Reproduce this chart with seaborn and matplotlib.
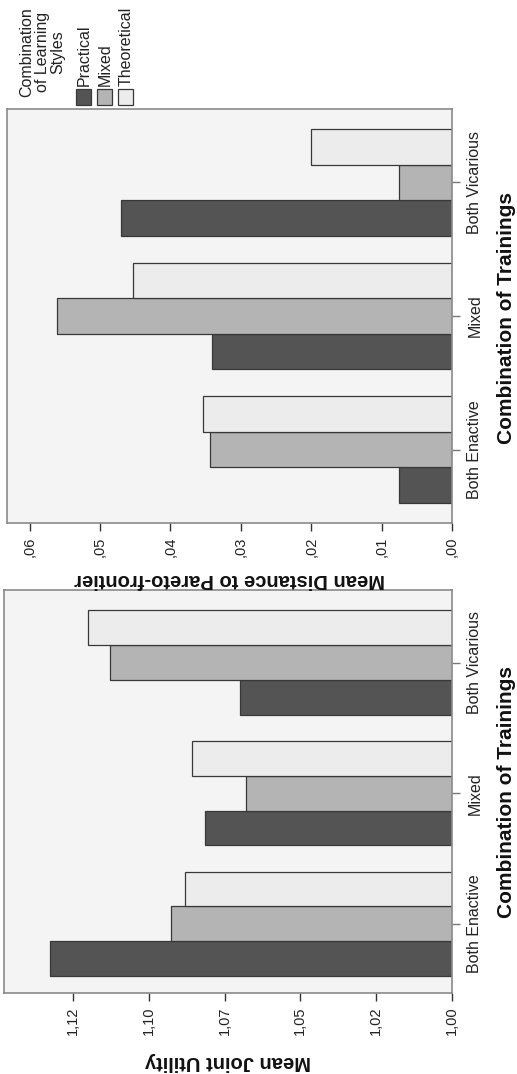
import matplotlib
matplotlib.use("Agg")
import matplotlib.pyplot as plt
from matplotlib.patches import Rectangle
import seaborn as sns
import pandas as pd

# ---------------- data ----------------
categories = ["Both Enactive", "Mixed", "Both Vicarious"]
styles = ["Practical", "Mixed", "Theoretical"]

joint_utility_practical = [1.1325, 1.0813, 1.0700]
joint_utility_mixed = [1.0926, 1.0678, 1.1126]
joint_utility_theoretical = [1.0881, 1.0857, 1.1199]

distance_practical = [0.0075, 0.0341, 0.0470]
distance_mixed = [0.0344, 0.0561, 0.0075]
distance_theoretical = [0.0353, 0.0453, 0.0200]

utility_ticks = [1.000, 1.025, 1.050, 1.075, 1.100, 1.125]
utility_tick_labels = ["1,00", "1,02", "1,05", "1,07", "1,10", "1,12"]
distance_ticks = [0.00, 0.01, 0.02, 0.03, 0.04, 0.05, 0.06]
distance_tick_labels = [",00", ",01", ",02", ",03", ",04", ",05", ",06"]

legend_title = "Combination\nof Learning\nStyles"
cat_title = "Combination of Trainings"
utility_title = "Mean Joint Utility"
distance_title = "Mean Distance to Pareto-frontier"

colors = {"Practical": "#545454", "Mixed": "#b4b4b4", "Theoretical": "#ececec"}


def make_df(p, m, t):
    rows = []
    for vals, s in zip([p, m, t], styles):
        for c, v in zip(categories, vals):
            rows.append({"training": c, "style": s, "value": v})
    return pd.DataFrame(rows)


df_util = make_df(joint_utility_practical, joint_utility_mixed, joint_utility_theoretical)
df_dist = make_df(distance_practical, distance_mixed, distance_theoretical)

# ---------------- figure ----------------
sns.set_theme(style="white")
plt.rcParams["font.family"] = ["Liberation Sans", "DejaVu Sans"]

W, H = 517, 1074
fig = plt.figure(figsize=(W / 100, H / 100), dpi=100)
fig.patch.set_facecolor("white")


def px_axes(x0, y0, x1, y1):
    return fig.add_axes([x0 / W, 1 - y1 / H, (x1 - x0) / W, (y1 - y0) / H])


ax_top = px_axes(7, 109, 452, 523)
ax_bot = px_axes(4, 590, 452, 993)


def style_panel(ax, df, xlim, ticks, labels, ylim):
    sns.barplot(data=df, x="value", y="training", hue="style", order=categories,
                hue_order=styles, orient="h", palette=colors, edgecolor="#383838",
                linewidth=0.9, width=0.8, errorbar=None, legend=False, ax=ax,
                saturation=1)
    ax.set_facecolor("#f4f4f4")
    ax.set_xlim(*xlim)
    ax.set_ylim(*ylim)
    ax.set_xticks(ticks)
    ax.set_xticklabels(labels, rotation=90, fontsize=10.5, color="#222222")
    ax.yaxis.tick_right()
    ax.set_yticks(range(len(categories)))
    ax.set_yticklabels(categories, rotation=90, va="center", fontsize=11.5, color="#222222")
    ax.set_xlabel("")
    ax.set_ylabel("")
    ax.tick_params(axis="x", direction="out", length=6, width=1, color="#333333", pad=3.5, bottom=True)
    ax.tick_params(axis="y", direction="out", length=6, width=1, color="#777777", pad=5.0,
                   right=True, left=False)
    for sp in ax.spines.values():
        sp.set_visible(True)
        sp.set_color("#8a8a8a")
        sp.set_linewidth(1.2)


style_panel(ax_top, df_dist, (0.0632, 0.0), distance_ticks, distance_tick_labels, (-0.55, 2.55))
style_panel(ax_bot, df_util, (1.1477, 1.0), utility_ticks, utility_tick_labels, (-0.53, 2.555))

# axis titles
fig.text(506 / W, 1 - 318 / H, cat_title, rotation=90, ha="center", va="center",
         fontsize=15, fontweight="bold", color="#111111")
fig.text(506 / W, 1 - 792 / H, cat_title, rotation=90, ha="center", va="center",
         fontsize=15, fontweight="bold", color="#111111")
fig.text(230 / W, 1 - 579 / H, distance_title, rotation=180, ha="center", va="center",
         fontsize=14.5, fontweight="bold", color="#111111")
fig.text(228 / W, 1 - 1062 / H, utility_title, rotation=180, ha="center", va="center",
         fontsize=14.5, fontweight="bold", color="#111111")

# legend (rotated)
fig.text(42 / W, 1 - 52 / H, legend_title, rotation=90, ha="center", va="center",
         multialignment="center", fontsize=11.5, color="#222222", linespacing=1.05)
leg_x = [76, 97, 118]
for s, x in zip(styles, leg_x):
    fig.add_artist(Rectangle((x / W, 1 - 105 / H), 15 / W, 16 / H, transform=fig.transFigure,
                             facecolor=colors[s], edgecolor="#383838", linewidth=0.9))
    fig.text((x + 8) / W, 1 - 86 / H, s, rotation=90, ha="center", va="bottom",
             fontsize=11.5, color="#222222")

fig.savefig("out.png", dpi=100, facecolor="white")
